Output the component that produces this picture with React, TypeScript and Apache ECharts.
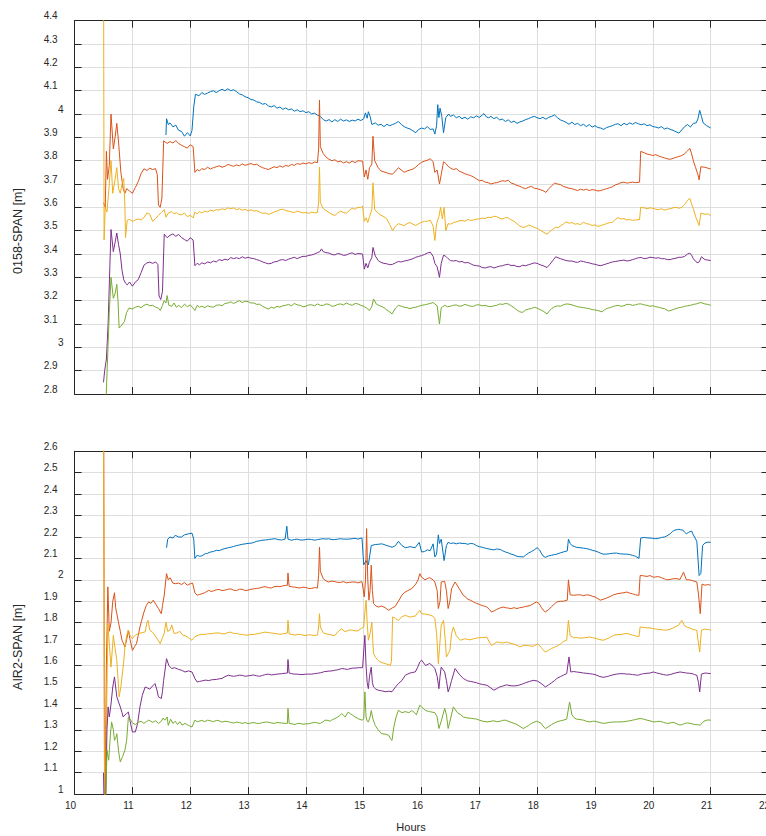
import React, { useEffect, useRef } from "react";
import * as echarts from "echarts";

type P = [number, number][];

// ---------- TOP PLOT (0158-SPAN) ----------
const topBlue: P = [[11.58,3.91],[11.59,3.98],[11.62,3.955],[11.65,3.962],[11.7,3.945],[11.75,3.952],[11.8,3.93],[11.85,3.925],[11.9,3.905],[11.95,3.92],[12.0,3.906],[12.03,3.93],[12.06,4.03],[12.09,4.085],[12.15,4.078],[12.2,4.092],[12.25,4.084],[12.3,4.09],[12.35,4.096],[12.4,4.1],[12.45,4.092],[12.5,4.1],[12.55,4.106],[12.6,4.1],[12.65,4.108],[12.7,4.1],[12.75,4.104],[12.8,4.096],[12.85,4.086],[12.9,4.082],[12.95,4.074],[13.0,4.07],[13.05,4.062],[13.1,4.06],[13.15,4.052],[13.2,4.05],[13.25,4.042],[13.3,4.045],[13.35,4.035],[13.4,4.03],[13.45,4.036],[13.5,4.025],[13.55,4.03],[13.6,4.02],[13.65,4.026],[13.7,4.018],[13.75,4.022],[13.8,4.012],[13.85,4.018],[13.9,4.01],[13.95,4.014],[14.0,4.006],[14.05,4.01],[14.1,4.0],[14.15,4.004],[14.2,3.995],[14.25,3.99],[14.3,3.976],[14.35,3.97],[14.4,3.976],[14.45,3.966],[14.5,3.976],[14.55,3.968],[14.6,3.978],[14.65,3.97],[14.7,3.975],[14.75,3.968],[14.8,3.974],[14.85,3.97],[14.9,3.978],[14.95,3.972],[15.0,3.98],[15.03,4.005],[15.06,3.982],[15.08,4.01],[15.11,3.99],[15.14,3.955],[15.2,3.962],[15.25,3.952],[15.3,3.956],[15.35,3.946],[15.4,3.956],[15.45,3.95],[15.5,3.955],[15.55,3.96],[15.6,3.968],[15.65,3.955],[15.7,3.946],[15.75,3.94],[15.8,3.936],[15.85,3.928],[15.9,3.92],[15.95,3.934],[16.0,3.94],[16.05,3.936],[16.1,3.946],[16.15,3.934],[16.2,3.936],[16.23,3.914],[16.26,3.95],[16.28,4.04],[16.3,3.985],[16.32,4.025],[16.35,3.99],[16.38,3.92],[16.42,3.985],[16.47,4.0],[16.5,3.99],[16.55,3.996],[16.6,3.984],[16.65,3.99],[16.7,3.98],[16.75,3.986],[16.8,3.978],[16.85,3.988],[16.9,3.984],[16.95,3.992],[17.0,3.985],[17.05,3.996],[17.08,4.002],[17.12,3.988],[17.16,3.984],[17.2,3.99],[17.25,3.98],[17.3,3.986],[17.35,3.975],[17.4,3.978],[17.45,3.968],[17.5,3.975],[17.55,3.964],[17.6,3.97],[17.65,3.96],[17.7,3.966],[17.75,3.97],[17.8,3.976],[17.85,3.98],[17.9,3.986],[17.95,3.99],[18.0,3.984],[18.05,3.98],[18.1,3.986],[18.15,3.978],[18.2,3.986],[18.25,3.99],[18.3,3.996],[18.35,3.984],[18.4,3.975],[18.45,3.97],[18.5,3.964],[18.55,3.956],[18.6,3.965],[18.65,3.955],[18.7,3.96],[18.75,3.95],[18.8,3.956],[18.85,3.946],[18.9,3.955],[18.95,3.944],[19.0,3.95],[19.05,3.942],[19.1,3.94],[19.15,3.934],[19.2,3.942],[19.25,3.946],[19.3,3.95],[19.35,3.956],[19.4,3.958],[19.45,3.95],[19.5,3.96],[19.55,3.954],[19.6,3.962],[19.65,3.956],[19.7,3.964],[19.75,3.958],[19.8,3.954],[19.85,3.958],[19.9,3.95],[19.95,3.954],[20.0,3.946],[20.05,3.944],[20.1,3.94],[20.15,3.946],[20.2,3.936],[20.25,3.94],[20.3,3.934],[20.35,3.93],[20.4,3.924],[20.45,3.918],[20.5,3.932],[20.55,3.946],[20.6,3.955],[20.65,3.944],[20.7,3.96],[20.75,3.962],[20.78,3.98],[20.81,4.016],[20.84,3.99],[20.87,3.962],[20.93,3.95],[21.0,3.94]];
const topRed: P = [[10.5,3.62],[10.53,3.6],[10.55,3.84],[10.57,3.72],[10.6,3.78],[10.63,4.0],[10.67,3.85],[10.7,3.9],[10.73,3.96],[10.76,3.88],[10.8,3.75],[10.84,3.68],[10.87,3.66],[10.9,3.68],[10.95,3.67],[11.0,3.66],[11.05,3.685],[11.1,3.71],[11.15,3.745],[11.2,3.765],[11.25,3.758],[11.3,3.768],[11.35,3.762],[11.4,3.766],[11.43,3.74],[11.45,3.61],[11.48,3.6],[11.51,3.64],[11.54,3.885],[11.6,3.874],[11.65,3.882],[11.7,3.876],[11.75,3.886],[11.8,3.874],[11.85,3.866],[11.9,3.86],[11.95,3.854],[12.0,3.868],[12.05,3.86],[12.08,3.75],[12.12,3.762],[12.16,3.756],[12.2,3.766],[12.25,3.762],[12.3,3.772],[12.35,3.764],[12.4,3.77],[12.45,3.774],[12.5,3.778],[12.55,3.772],[12.6,3.776],[12.65,3.784],[12.7,3.78],[12.75,3.776],[12.8,3.782],[12.85,3.778],[12.9,3.786],[12.95,3.78],[13.0,3.784],[13.05,3.788],[13.1,3.782],[13.15,3.785],[13.2,3.776],[13.25,3.77],[13.3,3.766],[13.35,3.762],[13.4,3.768],[13.45,3.774],[13.5,3.77],[13.55,3.778],[13.6,3.772],[13.65,3.78],[13.7,3.776],[13.75,3.784],[13.8,3.78],[13.85,3.788],[13.9,3.784],[13.95,3.79],[14.0,3.786],[14.05,3.792],[14.1,3.788],[14.15,3.794],[14.2,3.792],[14.22,3.85],[14.235,4.06],[14.25,3.86],[14.3,3.83],[14.35,3.815],[14.4,3.806],[14.45,3.8],[14.5,3.804],[14.55,3.795],[14.6,3.798],[14.65,3.79],[14.7,3.796],[14.75,3.79],[14.8,3.798],[14.85,3.792],[14.9,3.8],[14.98,3.798],[15.01,3.73],[15.04,3.76],[15.07,3.72],[15.1,3.77],[15.14,3.785],[15.16,3.905],[15.19,3.8],[15.25,3.77],[15.3,3.756],[15.35,3.752],[15.4,3.748],[15.45,3.744],[15.5,3.742],[15.55,3.756],[15.6,3.77],[15.65,3.76],[15.7,3.75],[15.75,3.756],[15.8,3.76],[15.85,3.764],[15.9,3.772],[15.95,3.784],[16.0,3.793],[16.05,3.798],[16.1,3.802],[16.15,3.808],[16.2,3.796],[16.23,3.75],[16.27,3.76],[16.31,3.7],[16.34,3.74],[16.38,3.795],[16.42,3.788],[16.46,3.776],[16.5,3.768],[16.55,3.762],[16.6,3.766],[16.65,3.756],[16.7,3.75],[16.75,3.744],[16.8,3.74],[16.85,3.736],[16.9,3.73],[16.95,3.722],[17.0,3.714],[17.05,3.716],[17.1,3.708],[17.15,3.706],[17.2,3.7],[17.25,3.704],[17.3,3.706],[17.35,3.71],[17.4,3.714],[17.45,3.712],[17.5,3.716],[17.55,3.704],[17.6,3.7],[17.65,3.694],[17.7,3.69],[17.75,3.684],[17.8,3.68],[17.85,3.686],[17.9,3.69],[17.95,3.682],[18.0,3.68],[18.05,3.676],[18.1,3.672],[18.15,3.664],[18.2,3.68],[18.25,3.692],[18.3,3.704],[18.35,3.7],[18.4,3.698],[18.45,3.69],[18.5,3.686],[18.55,3.682],[18.6,3.68],[18.65,3.676],[18.7,3.672],[18.75,3.678],[18.8,3.674],[18.85,3.678],[18.9,3.672],[18.95,3.676],[19.0,3.674],[19.05,3.67],[19.1,3.672],[19.15,3.676],[19.2,3.68],[19.25,3.684],[19.3,3.688],[19.35,3.696],[19.4,3.7],[19.45,3.706],[19.5,3.708],[19.55,3.704],[19.6,3.706],[19.65,3.708],[19.7,3.706],[19.77,3.708],[19.79,3.84],[19.85,3.834],[19.9,3.828],[19.95,3.826],[20.0,3.822],[20.05,3.826],[20.1,3.82],[20.15,3.816],[20.2,3.812],[20.25,3.808],[20.3,3.806],[20.35,3.81],[20.4,3.814],[20.45,3.818],[20.5,3.822],[20.55,3.83],[20.6,3.842],[20.64,3.853],[20.67,3.83],[20.7,3.8],[20.74,3.77],[20.78,3.74],[20.8,3.718],[20.83,3.774],[20.9,3.772],[20.95,3.768],[21.0,3.764]];
const topYellow: P = [[10.5,4.8],[10.51,3.46],[10.53,3.6],[10.56,3.58],[10.6,3.7],[10.63,3.8],[10.66,3.66],[10.7,3.72],[10.73,3.77],[10.76,3.68],[10.79,3.66],[10.82,3.7],[10.85,3.724],[10.87,3.6],[10.88,3.47],[10.91,3.545],[10.95,3.548],[11.0,3.54],[11.05,3.546],[11.1,3.55],[11.15,3.546],[11.2,3.556],[11.25,3.576],[11.3,3.57],[11.35,3.54],[11.4,3.552],[11.45,3.565],[11.5,3.578],[11.55,3.59],[11.58,3.558],[11.62,3.575],[11.68,3.582],[11.72,3.572],[11.76,3.578],[11.8,3.57],[11.85,3.568],[11.9,3.575],[11.95,3.56],[12.0,3.566],[12.05,3.555],[12.08,3.58],[12.12,3.572],[12.16,3.582],[12.2,3.576],[12.25,3.584],[12.3,3.58],[12.35,3.588],[12.4,3.584],[12.45,3.59],[12.5,3.588],[12.55,3.594],[12.6,3.59],[12.65,3.598],[12.7,3.594],[12.75,3.598],[12.8,3.59],[12.85,3.594],[12.9,3.588],[12.95,3.592],[13.0,3.585],[13.05,3.59],[13.1,3.584],[13.15,3.586],[13.2,3.58],[13.25,3.574],[13.3,3.576],[13.35,3.57],[13.4,3.574],[13.45,3.58],[13.5,3.584],[13.55,3.59],[13.6,3.592],[13.65,3.586],[13.7,3.584],[13.75,3.58],[13.8,3.578],[13.85,3.584],[13.9,3.58],[13.95,3.576],[14.0,3.578],[14.05,3.574],[14.1,3.58],[14.15,3.576],[14.2,3.578],[14.22,3.62],[14.235,3.772],[14.25,3.62],[14.3,3.595],[14.35,3.586],[14.4,3.578],[14.45,3.57],[14.5,3.565],[14.55,3.576],[14.6,3.584],[14.65,3.578],[14.7,3.575],[14.75,3.586],[14.8,3.596],[14.85,3.592],[14.9,3.6],[14.95,3.598],[14.98,3.606],[15.01,3.54],[15.04,3.555],[15.07,3.535],[15.1,3.56],[15.14,3.59],[15.16,3.705],[15.19,3.59],[15.25,3.575],[15.3,3.566],[15.35,3.56],[15.4,3.55],[15.45,3.526],[15.5,3.5],[15.55,3.52],[15.6,3.53],[15.65,3.526],[15.7,3.522],[15.75,3.53],[15.8,3.535],[15.85,3.528],[15.9,3.522],[15.95,3.53],[16.0,3.536],[16.05,3.54],[16.1,3.54],[16.15,3.545],[16.2,3.52],[16.23,3.458],[16.26,3.53],[16.3,3.56],[16.33,3.6],[16.36,3.55],[16.39,3.6],[16.42,3.5],[16.46,3.53],[16.5,3.528],[16.55,3.534],[16.6,3.538],[16.65,3.542],[16.7,3.544],[16.75,3.54],[16.8,3.548],[16.85,3.544],[16.9,3.546],[16.95,3.55],[17.0,3.55],[17.05,3.554],[17.1,3.552],[17.15,3.558],[17.2,3.556],[17.25,3.562],[17.3,3.56],[17.35,3.554],[17.4,3.55],[17.45,3.556],[17.5,3.555],[17.55,3.546],[17.6,3.54],[17.65,3.53],[17.7,3.52],[17.75,3.514],[17.8,3.516],[17.85,3.524],[17.9,3.52],[17.95,3.514],[18.0,3.51],[18.05,3.502],[18.1,3.495],[18.17,3.485],[18.22,3.496],[18.27,3.506],[18.32,3.515],[18.36,3.512],[18.4,3.52],[18.45,3.528],[18.5,3.538],[18.55,3.532],[18.6,3.535],[18.65,3.528],[18.7,3.53],[18.75,3.526],[18.8,3.536],[18.85,3.53],[18.9,3.528],[18.95,3.522],[19.0,3.525],[19.05,3.518],[19.1,3.522],[19.15,3.526],[19.2,3.53],[19.25,3.534],[19.3,3.536],[19.35,3.548],[19.4,3.556],[19.45,3.55],[19.5,3.552],[19.55,3.546],[19.6,3.548],[19.65,3.544],[19.7,3.546],[19.77,3.548],[19.79,3.6],[19.85,3.598],[19.9,3.594],[19.95,3.598],[20.0,3.596],[20.05,3.592],[20.1,3.59],[20.15,3.594],[20.2,3.588],[20.25,3.592],[20.3,3.594],[20.35,3.598],[20.4,3.6],[20.45,3.596],[20.5,3.6],[20.55,3.612],[20.6,3.63],[20.64,3.638],[20.67,3.615],[20.7,3.595],[20.74,3.56],[20.78,3.535],[20.8,3.522],[20.83,3.575],[20.9,3.57],[20.95,3.572],[21.0,3.565]];
const topPurple: P = [[10.5,2.85],[10.52,2.9],[10.55,2.95],[10.58,3.1],[10.61,3.35],[10.63,3.505],[10.67,3.41],[10.7,3.45],[10.73,3.49],[10.76,3.44],[10.79,3.4],[10.82,3.33],[10.85,3.29],[10.88,3.275],[10.91,3.268],[10.95,3.28],[11.0,3.262],[11.05,3.28],[11.1,3.29],[11.15,3.32],[11.2,3.352],[11.25,3.362],[11.3,3.365],[11.35,3.36],[11.4,3.366],[11.44,3.355],[11.46,3.22],[11.49,3.205],[11.52,3.24],[11.55,3.485],[11.6,3.47],[11.65,3.48],[11.7,3.486],[11.75,3.476],[11.8,3.484],[11.85,3.47],[11.9,3.462],[11.95,3.455],[12.0,3.47],[12.05,3.46],[12.08,3.35],[12.12,3.36],[12.16,3.354],[12.2,3.362],[12.25,3.358],[12.3,3.366],[12.35,3.362],[12.4,3.37],[12.45,3.366],[12.5,3.376],[12.55,3.372],[12.6,3.378],[12.65,3.374],[12.7,3.385],[12.75,3.38],[12.8,3.384],[12.85,3.38],[12.9,3.388],[12.95,3.382],[13.0,3.386],[13.05,3.382],[13.1,3.38],[13.15,3.376],[13.2,3.372],[13.25,3.366],[13.3,3.362],[13.35,3.358],[13.4,3.36],[13.45,3.366],[13.5,3.368],[13.55,3.374],[13.6,3.376],[13.65,3.372],[13.7,3.378],[13.75,3.382],[13.8,3.386],[13.85,3.38],[13.9,3.386],[13.95,3.39],[14.0,3.39],[14.05,3.394],[14.1,3.396],[14.15,3.4],[14.2,3.406],[14.24,3.41],[14.27,3.422],[14.3,3.41],[14.35,3.406],[14.4,3.404],[14.45,3.398],[14.5,3.396],[14.55,3.402],[14.6,3.4],[14.65,3.394],[14.7,3.396],[14.75,3.402],[14.8,3.405],[14.85,3.398],[14.9,3.402],[14.98,3.4],[15.01,3.335],[15.04,3.36],[15.07,3.34],[15.1,3.365],[15.14,3.385],[15.16,3.428],[15.2,3.392],[15.25,3.372],[15.3,3.364],[15.35,3.36],[15.4,3.358],[15.45,3.354],[15.5,3.356],[15.55,3.362],[15.6,3.368],[15.65,3.366],[15.7,3.37],[15.75,3.372],[15.8,3.376],[15.85,3.38],[15.9,3.386],[15.95,3.39],[16.0,3.393],[16.05,3.398],[16.1,3.404],[16.15,3.408],[16.2,3.39],[16.23,3.36],[16.27,3.345],[16.31,3.3],[16.34,3.36],[16.38,3.395],[16.42,3.39],[16.46,3.38],[16.5,3.372],[16.55,3.37],[16.6,3.372],[16.65,3.366],[16.7,3.368],[16.75,3.362],[16.8,3.364],[16.85,3.358],[16.9,3.352],[16.95,3.35],[17.0,3.348],[17.05,3.342],[17.1,3.34],[17.15,3.344],[17.2,3.346],[17.25,3.34],[17.3,3.344],[17.35,3.348],[17.4,3.35],[17.45,3.354],[17.5,3.356],[17.55,3.35],[17.6,3.352],[17.65,3.346],[17.7,3.346],[17.75,3.352],[17.8,3.35],[17.85,3.354],[17.9,3.358],[17.95,3.362],[18.0,3.36],[18.05,3.354],[18.1,3.35],[18.17,3.342],[18.22,3.356],[18.27,3.372],[18.32,3.388],[18.36,3.384],[18.4,3.38],[18.45,3.376],[18.5,3.372],[18.55,3.37],[18.6,3.37],[18.65,3.366],[18.7,3.364],[18.75,3.37],[18.8,3.368],[18.85,3.364],[18.9,3.362],[18.95,3.358],[19.0,3.356],[19.05,3.352],[19.1,3.35],[19.15,3.354],[19.2,3.358],[19.25,3.362],[19.3,3.366],[19.35,3.368],[19.4,3.37],[19.45,3.372],[19.5,3.374],[19.55,3.37],[19.6,3.372],[19.65,3.376],[19.7,3.38],[19.75,3.384],[19.8,3.385],[19.85,3.38],[19.9,3.382],[19.95,3.386],[20.0,3.385],[20.05,3.382],[20.1,3.384],[20.15,3.38],[20.2,3.38],[20.25,3.376],[20.3,3.376],[20.35,3.38],[20.4,3.382],[20.45,3.386],[20.5,3.386],[20.55,3.39],[20.6,3.4],[20.64,3.404],[20.67,3.395],[20.7,3.38],[20.74,3.368],[20.78,3.362],[20.81,3.37],[20.84,3.388],[20.9,3.376],[20.95,3.374],[21.0,3.372]];
const topGreen: P = [[10.54,2.75],[10.57,2.95],[10.6,3.15],[10.63,3.3],[10.67,3.21],[10.7,3.23],[10.73,3.27],[10.75,3.2],[10.77,3.083],[10.8,3.09],[10.83,3.1],[10.86,3.11],[10.9,3.15],[10.94,3.168],[11.0,3.165],[11.05,3.172],[11.1,3.176],[11.15,3.17],[11.2,3.18],[11.25,3.185],[11.3,3.178],[11.35,3.18],[11.4,3.172],[11.45,3.168],[11.48,3.158],[11.52,3.18],[11.55,3.2],[11.58,3.19],[11.6,3.222],[11.63,3.18],[11.68,3.176],[11.72,3.19],[11.76,3.172],[11.8,3.18],[11.85,3.17],[11.9,3.185],[11.95,3.174],[12.0,3.182],[12.05,3.168],[12.08,3.158],[12.12,3.18],[12.16,3.172],[12.2,3.176],[12.25,3.17],[12.3,3.178],[12.35,3.174],[12.4,3.172],[12.45,3.18],[12.5,3.182],[12.55,3.178],[12.6,3.188],[12.65,3.19],[12.7,3.195],[12.75,3.188],[12.8,3.194],[12.85,3.2],[12.9,3.192],[12.95,3.198],[13.0,3.196],[13.05,3.19],[13.1,3.19],[13.15,3.184],[13.2,3.185],[13.25,3.176],[13.3,3.17],[13.35,3.164],[13.4,3.172],[13.45,3.168],[13.5,3.176],[13.55,3.172],[13.6,3.178],[13.65,3.18],[13.7,3.184],[13.75,3.178],[13.8,3.188],[13.85,3.182],[13.9,3.18],[13.95,3.174],[14.0,3.176],[14.05,3.182],[14.1,3.182],[14.15,3.178],[14.2,3.186],[14.25,3.18],[14.3,3.18],[14.35,3.186],[14.4,3.184],[14.45,3.176],[14.5,3.178],[14.55,3.184],[14.6,3.186],[14.65,3.182],[14.7,3.19],[14.75,3.184],[14.8,3.18],[14.85,3.188],[14.9,3.186],[14.95,3.18],[15.0,3.176],[15.05,3.168],[15.1,3.158],[15.14,3.175],[15.17,3.207],[15.22,3.185],[15.26,3.18],[15.3,3.176],[15.35,3.17],[15.4,3.16],[15.45,3.152],[15.49,3.143],[15.55,3.168],[15.6,3.18],[15.65,3.176],[15.7,3.172],[15.75,3.17],[15.8,3.166],[15.85,3.17],[15.9,3.172],[15.95,3.176],[16.0,3.18],[16.05,3.182],[16.1,3.185],[16.15,3.188],[16.2,3.192],[16.27,3.178],[16.31,3.1],[16.34,3.17],[16.4,3.18],[16.45,3.174],[16.5,3.176],[16.55,3.18],[16.6,3.182],[16.65,3.176],[16.7,3.178],[16.75,3.184],[16.8,3.18],[16.85,3.176],[16.9,3.176],[16.95,3.182],[17.0,3.182],[17.05,3.178],[17.1,3.18],[17.15,3.176],[17.2,3.174],[17.25,3.178],[17.3,3.18],[17.35,3.186],[17.4,3.184],[17.45,3.188],[17.5,3.186],[17.55,3.178],[17.6,3.17],[17.65,3.16],[17.7,3.152],[17.75,3.15],[17.8,3.16],[17.85,3.164],[17.9,3.166],[17.95,3.172],[18.0,3.168],[18.05,3.162],[18.1,3.156],[18.17,3.143],[18.21,3.156],[18.25,3.166],[18.3,3.174],[18.35,3.178],[18.4,3.176],[18.45,3.182],[18.5,3.186],[18.55,3.185],[18.6,3.182],[18.65,3.178],[18.7,3.174],[18.75,3.172],[18.8,3.17],[18.85,3.168],[18.9,3.166],[18.95,3.162],[19.0,3.16],[19.05,3.158],[19.12,3.152],[19.16,3.16],[19.2,3.166],[19.25,3.17],[19.3,3.174],[19.35,3.178],[19.4,3.18],[19.45,3.176],[19.5,3.178],[19.55,3.184],[19.6,3.184],[19.65,3.18],[19.7,3.182],[19.75,3.186],[19.8,3.186],[19.85,3.182],[19.9,3.18],[19.95,3.176],[20.0,3.178],[20.05,3.174],[20.1,3.172],[20.15,3.168],[20.2,3.166],[20.27,3.156],[20.31,3.158],[20.35,3.162],[20.4,3.166],[20.45,3.17],[20.5,3.172],[20.55,3.176],[20.6,3.178],[20.65,3.18],[20.7,3.184],[20.75,3.186],[20.8,3.19],[20.83,3.192],[20.9,3.186],[20.95,3.184],[21.0,3.18]];

// ---------- BOTTOM PLOT (AIR2-SPAN) ----------
const botBlue: P = [[11.59,2.15],[11.61,2.19],[11.65,2.2],[11.7,2.195],[11.74,2.208],[11.8,2.2],[11.85,2.2],[11.9,2.21],[11.97,2.215],[12.03,2.218],[12.06,2.19],[12.08,2.1],[12.12,2.115],[12.16,2.11],[12.2,2.112],[12.26,2.122],[12.3,2.124],[12.35,2.13],[12.4,2.132],[12.45,2.138],[12.5,2.136],[12.55,2.142],[12.6,2.146],[12.66,2.15],[12.7,2.152],[12.75,2.156],[12.8,2.16],[12.84,2.162],[12.9,2.166],[12.95,2.168],[13.0,2.17],[13.07,2.172],[13.11,2.176],[13.15,2.18],[13.2,2.182],[13.24,2.185],[13.3,2.186],[13.35,2.188],[13.4,2.19],[13.47,2.192],[13.52,2.188],[13.58,2.186],[13.64,2.19],[13.67,2.25],[13.69,2.19],[13.75,2.185],[13.8,2.188],[13.85,2.19],[13.9,2.186],[13.95,2.186],[14.0,2.188],[14.04,2.19],[14.1,2.188],[14.15,2.185],[14.2,2.188],[14.25,2.19],[14.3,2.192],[14.35,2.19],[14.39,2.192],[14.45,2.188],[14.5,2.188],[14.55,2.19],[14.6,2.192],[14.65,2.19],[14.73,2.19],[14.8,2.192],[14.85,2.194],[14.9,2.19],[14.97,2.196],[15.0,2.07],[15.04,2.09],[15.08,2.07],[15.13,2.16],[15.2,2.165],[15.25,2.166],[15.31,2.168],[15.35,2.165],[15.4,2.16],[15.45,2.156],[15.49,2.152],[15.55,2.16],[15.6,2.18],[15.66,2.16],[15.72,2.15],[15.76,2.152],[15.8,2.155],[15.85,2.152],[15.89,2.15],[15.96,2.175],[16.0,2.13],[16.05,2.132],[16.1,2.14],[16.15,2.136],[16.2,2.168],[16.23,2.107],[16.26,2.12],[16.29,2.21],[16.31,2.17],[16.34,2.19],[16.37,2.13],[16.39,2.09],[16.43,2.16],[16.46,2.175],[16.5,2.17],[16.55,2.172],[16.6,2.168],[16.65,2.172],[16.7,2.17],[16.75,2.17],[16.8,2.166],[16.85,2.17],[16.9,2.168],[16.95,2.16],[17.0,2.155],[17.05,2.152],[17.1,2.148],[17.13,2.146],[17.2,2.142],[17.25,2.14],[17.3,2.144],[17.36,2.142],[17.4,2.136],[17.45,2.13],[17.5,2.126],[17.53,2.122],[17.6,2.116],[17.65,2.11],[17.7,2.108],[17.76,2.107],[17.8,2.115],[17.85,2.125],[17.9,2.132],[17.95,2.14],[18.0,2.15],[18.04,2.14],[18.07,2.125],[18.1,2.112],[18.14,2.105],[18.2,2.112],[18.25,2.115],[18.3,2.118],[18.34,2.12],[18.4,2.126],[18.45,2.13],[18.52,2.135],[18.54,2.19],[18.57,2.17],[18.6,2.16],[18.64,2.156],[18.68,2.152],[18.74,2.15],[18.8,2.148],[18.85,2.146],[18.91,2.142],[18.95,2.138],[19.0,2.135],[19.05,2.13],[19.1,2.124],[19.14,2.12],[19.2,2.12],[19.25,2.122],[19.3,2.124],[19.37,2.125],[19.42,2.122],[19.5,2.12],[19.55,2.12],[19.6,2.118],[19.65,2.114],[19.7,2.11],[19.76,2.1],[19.79,2.195],[19.85,2.198],[19.9,2.196],[19.95,2.195],[20.0,2.194],[20.05,2.192],[20.1,2.194],[20.15,2.198],[20.2,2.2],[20.24,2.205],[20.3,2.215],[20.34,2.226],[20.38,2.232],[20.42,2.234],[20.45,2.236],[20.48,2.234],[20.52,2.232],[20.55,2.222],[20.58,2.215],[20.62,2.222],[20.67,2.228],[20.7,2.21],[20.72,2.2],[20.76,2.18],[20.8,2.02],[20.83,2.03],[20.86,2.16],[20.9,2.172],[20.95,2.176],[21.0,2.175]];
const botRed: P = [[10.5,3.0],[10.52,0.8],[10.55,1.6],[10.575,1.967],[10.6,1.76],[10.63,1.8],[10.66,1.9],[10.69,1.94],[10.71,1.87],[10.73,1.842],[10.76,1.8],[10.79,1.76],[10.82,1.718],[10.85,1.7],[10.87,1.687],[10.9,1.72],[10.93,1.765],[10.96,1.72],[11.0,1.671],[11.04,1.69],[11.07,1.702],[11.1,1.74],[11.13,1.78],[11.16,1.811],[11.2,1.85],[11.24,1.88],[11.28,1.897],[11.32,1.89],[11.36,1.905],[11.4,1.888],[11.45,1.866],[11.5,1.842],[11.52,1.88],[11.55,1.928],[11.59,2.029],[11.62,2.0],[11.65,2.01],[11.7,1.985],[11.74,1.982],[11.8,1.985],[11.85,1.978],[11.9,1.988],[11.95,1.975],[12.0,1.982],[12.04,1.985],[12.08,1.94],[12.12,1.928],[12.16,1.932],[12.2,1.935],[12.25,1.94],[12.32,1.951],[12.36,1.946],[12.4,1.948],[12.45,1.954],[12.5,1.955],[12.55,1.95],[12.6,1.952],[12.65,1.956],[12.7,1.958],[12.75,1.952],[12.8,1.95],[12.85,1.956],[12.9,1.956],[12.95,1.95],[13.0,1.952],[13.05,1.956],[13.1,1.958],[13.15,1.96],[13.2,1.962],[13.25,1.966],[13.3,1.968],[13.35,1.964],[13.4,1.962],[13.45,1.968],[13.5,1.97],[13.55,1.968],[13.6,1.972],[13.65,1.974],[13.68,1.975],[13.69,2.032],[13.71,1.97],[13.75,1.968],[13.8,1.966],[13.85,1.964],[13.9,1.962],[13.95,1.966],[14.0,1.964],[14.05,1.96],[14.1,1.96],[14.15,1.964],[14.2,1.962],[14.22,2.02],[14.235,2.153],[14.25,2.04],[14.3,2.005],[14.35,1.995],[14.39,1.99],[14.45,1.994],[14.5,1.992],[14.55,1.988],[14.6,1.988],[14.65,1.992],[14.7,1.986],[14.75,1.988],[14.8,1.99],[14.85,1.99],[14.9,1.986],[14.97,1.992],[15.01,1.92],[15.03,2.0],[15.05,2.239],[15.07,2.0],[15.09,1.905],[15.11,1.95],[15.13,2.068],[15.15,1.95],[15.17,1.889],[15.21,1.878],[15.25,1.873],[15.31,1.878],[15.37,1.87],[15.43,1.858],[15.5,1.87],[15.54,1.875],[15.6,1.9],[15.66,1.928],[15.7,1.94],[15.75,1.948],[15.83,1.959],[15.9,1.98],[15.94,2.0],[15.97,2.029],[16.0,2.013],[16.06,2.0],[16.1,2.006],[16.14,2.01],[16.2,2.0],[16.23,1.99],[16.27,1.95],[16.29,1.866],[16.32,1.9],[16.34,1.99],[16.4,1.993],[16.43,1.95],[16.46,1.866],[16.49,1.9],[16.52,1.959],[16.58,1.99],[16.65,1.96],[16.72,1.928],[16.76,1.92],[16.8,1.91],[16.85,1.904],[16.9,1.897],[16.95,1.89],[17.0,1.885],[17.05,1.88],[17.1,1.876],[17.13,1.873],[17.18,1.86],[17.21,1.85],[17.26,1.856],[17.3,1.862],[17.35,1.868],[17.41,1.873],[17.45,1.87],[17.5,1.868],[17.55,1.866],[17.6,1.87],[17.65,1.866],[17.7,1.87],[17.75,1.872],[17.8,1.876],[17.88,1.88],[17.94,1.89],[17.99,1.897],[18.03,1.89],[18.07,1.872],[18.1,1.86],[18.14,1.85],[18.2,1.862],[18.25,1.875],[18.3,1.888],[18.34,1.897],[18.4,1.9],[18.45,1.9],[18.52,1.905],[18.54,2.0],[18.57,1.93],[18.63,1.928],[18.7,1.93],[18.75,1.93],[18.8,1.926],[18.85,1.93],[18.91,1.928],[18.95,1.924],[19.0,1.92],[19.05,1.912],[19.09,1.905],[19.15,1.91],[19.2,1.915],[19.26,1.922],[19.32,1.93],[19.38,1.935],[19.45,1.938],[19.5,1.94],[19.55,1.943],[19.6,1.938],[19.65,1.935],[19.7,1.93],[19.76,1.928],[19.78,2.02],[19.82,2.02],[19.85,2.018],[19.9,2.016],[19.95,2.02],[20.01,2.012],[20.05,2.014],[20.1,2.015],[20.15,2.01],[20.2,2.005],[20.24,2.0],[20.3,2.002],[20.35,2.005],[20.4,2.006],[20.47,2.002],[20.53,2.036],[20.58,2.0],[20.64,2.0],[20.7,1.995],[20.76,1.99],[20.79,1.93],[20.82,1.842],[20.85,1.98],[20.9,1.975],[20.95,1.978],[21.0,1.975]];
const botYellow: P = [[10.5,3.0],[10.52,0.7],[10.55,1.3],[10.575,1.796],[10.6,1.7],[10.63,1.593],[10.67,1.741],[10.7,1.68],[10.73,1.624],[10.75,1.54],[10.77,1.454],[10.8,1.5],[10.82,1.547],[10.85,1.62],[10.87,1.687],[10.9,1.74],[10.93,1.765],[10.96,1.74],[11.0,1.726],[11.05,1.742],[11.1,1.749],[11.15,1.752],[11.22,1.757],[11.25,1.8],[11.27,1.811],[11.3,1.765],[11.35,1.755],[11.39,1.74],[11.44,1.72],[11.48,1.702],[11.52,1.73],[11.55,1.75],[11.58,1.803],[11.61,1.76],[11.65,1.765],[11.68,1.79],[11.72,1.75],[11.77,1.752],[11.82,1.76],[11.87,1.742],[11.91,1.74],[11.97,1.73],[12.03,1.718],[12.08,1.735],[12.14,1.742],[12.2,1.746],[12.25,1.745],[12.3,1.748],[12.37,1.749],[12.44,1.752],[12.5,1.752],[12.55,1.748],[12.6,1.748],[12.65,1.754],[12.7,1.756],[12.75,1.75],[12.8,1.75],[12.85,1.746],[12.9,1.745],[12.95,1.742],[13.0,1.742],[13.05,1.745],[13.1,1.745],[13.15,1.748],[13.2,1.75],[13.25,1.754],[13.3,1.756],[13.35,1.754],[13.4,1.752],[13.45,1.75],[13.5,1.748],[13.55,1.746],[13.6,1.748],[13.68,1.752],[13.69,1.811],[13.71,1.748],[13.76,1.745],[13.81,1.742],[13.86,1.746],[13.9,1.745],[13.95,1.742],[14.0,1.74],[14.05,1.744],[14.1,1.742],[14.15,1.74],[14.2,1.742],[14.22,1.78],[14.235,1.842],[14.25,1.78],[14.3,1.752],[14.35,1.748],[14.4,1.745],[14.45,1.742],[14.5,1.74],[14.56,1.76],[14.62,1.772],[14.66,1.76],[14.7,1.76],[14.75,1.766],[14.8,1.765],[14.85,1.762],[14.9,1.762],[14.95,1.772],[15.0,1.78],[15.02,1.85],[15.04,1.905],[15.06,1.8],[15.08,1.718],[15.11,1.75],[15.14,1.803],[15.16,1.7],[15.17,1.656],[15.21,1.636],[15.25,1.624],[15.3,1.615],[15.37,1.609],[15.42,1.605],[15.46,1.601],[15.48,1.62],[15.5,1.827],[15.55,1.82],[15.6,1.81],[15.66,1.828],[15.72,1.834],[15.76,1.83],[15.8,1.826],[15.85,1.83],[15.89,1.83],[15.93,1.845],[15.97,1.858],[16.0,1.842],[16.07,1.84],[16.14,1.836],[16.2,1.83],[16.23,1.819],[16.26,1.75],[16.29,1.609],[16.31,1.68],[16.34,1.788],[16.38,1.811],[16.41,1.72],[16.43,1.64],[16.47,1.66],[16.49,1.671],[16.52,1.75],[16.55,1.78],[16.6,1.74],[16.67,1.718],[16.75,1.725],[16.8,1.722],[16.84,1.72],[16.9,1.725],[16.95,1.728],[17.0,1.73],[17.05,1.73],[17.1,1.732],[17.13,1.733],[17.17,1.71],[17.21,1.694],[17.26,1.702],[17.3,1.71],[17.35,1.708],[17.4,1.705],[17.47,1.71],[17.53,1.704],[17.6,1.7],[17.65,1.694],[17.7,1.687],[17.75,1.692],[17.8,1.695],[17.87,1.692],[17.93,1.69],[18.0,1.7],[18.04,1.694],[18.07,1.685],[18.1,1.674],[18.14,1.663],[18.2,1.672],[18.25,1.68],[18.3,1.686],[18.34,1.69],[18.4,1.7],[18.45,1.712],[18.51,1.718],[18.54,1.811],[18.57,1.74],[18.63,1.73],[18.7,1.73],[18.75,1.728],[18.82,1.73],[18.91,1.733],[18.96,1.73],[19.0,1.728],[19.07,1.722],[19.14,1.718],[19.2,1.724],[19.25,1.73],[19.32,1.741],[19.38,1.744],[19.45,1.745],[19.5,1.748],[19.55,1.75],[19.6,1.746],[19.65,1.742],[19.7,1.738],[19.76,1.735],[19.78,1.78],[19.85,1.778],[19.9,1.776],[19.95,1.776],[20.01,1.772],[20.06,1.77],[20.12,1.768],[20.18,1.766],[20.24,1.765],[20.3,1.77],[20.35,1.775],[20.4,1.782],[20.45,1.79],[20.5,1.811],[20.55,1.785],[20.6,1.778],[20.64,1.775],[20.7,1.768],[20.76,1.765],[20.79,1.7],[20.81,1.663],[20.84,1.765],[20.9,1.77],[20.95,1.768],[21.0,1.765]];
const botPurple: P = [[10.5,1.1],[10.52,0.8],[10.54,1.0],[10.56,1.3],[10.58,1.407],[10.6,1.36],[10.63,1.42],[10.66,1.5],[10.69,1.547],[10.71,1.5],[10.73,1.454],[10.76,1.43],[10.79,1.407],[10.82,1.38],[10.84,1.36],[10.87,1.37],[10.9,1.376],[10.93,1.383],[10.96,1.34],[11.0,1.29],[11.05,1.29],[11.09,1.33],[11.13,1.407],[11.17,1.46],[11.22,1.5],[11.26,1.495],[11.3,1.49],[11.35,1.505],[11.39,1.516],[11.42,1.49],[11.45,1.454],[11.5,1.446],[11.52,1.48],[11.54,1.531],[11.59,1.632],[11.63,1.6],[11.68,1.586],[11.73,1.59],[11.8,1.582],[11.85,1.578],[11.91,1.57],[11.97,1.575],[12.03,1.57],[12.08,1.54],[12.12,1.523],[12.16,1.526],[12.2,1.528],[12.26,1.532],[12.32,1.53],[12.38,1.534],[12.45,1.535],[12.5,1.538],[12.55,1.54],[12.6,1.548],[12.66,1.555],[12.7,1.552],[12.75,1.55],[12.8,1.552],[12.85,1.555],[12.9,1.554],[12.95,1.55],[13.0,1.552],[13.05,1.554],[13.1,1.556],[13.15,1.552],[13.2,1.55],[13.25,1.554],[13.3,1.558],[13.35,1.56],[13.4,1.556],[13.45,1.558],[13.5,1.56],[13.58,1.562],[13.64,1.564],[13.68,1.565],[13.69,1.628],[13.71,1.565],[13.75,1.562],[13.8,1.56],[13.85,1.56],[13.9,1.558],[13.95,1.558],[14.0,1.56],[14.04,1.56],[14.1,1.56],[14.15,1.562],[14.2,1.564],[14.25,1.566],[14.3,1.57],[14.33,1.572],[14.4,1.574],[14.45,1.575],[14.5,1.578],[14.55,1.58],[14.62,1.586],[14.67,1.584],[14.72,1.582],[14.8,1.588],[14.85,1.588],[14.91,1.59],[14.98,1.59],[15.02,1.741],[15.04,1.6],[15.06,1.52],[15.08,1.492],[15.1,1.55],[15.13,1.593],[15.15,1.52],[15.17,1.5],[15.21,1.49],[15.25,1.485],[15.31,1.482],[15.37,1.478],[15.43,1.48],[15.49,1.478],[15.55,1.5],[15.6,1.516],[15.66,1.53],[15.72,1.555],[15.8,1.565],[15.85,1.568],[15.89,1.57],[15.93,1.59],[15.97,1.617],[16.0,1.625],[16.07,1.6],[16.14,1.61],[16.2,1.596],[16.23,1.586],[16.27,1.55],[16.3,1.492],[16.32,1.55],[16.34,1.593],[16.4,1.57],[16.43,1.53],[16.46,1.477],[16.49,1.5],[16.52,1.531],[16.58,1.586],[16.65,1.56],[16.72,1.54],[16.76,1.534],[16.8,1.528],[16.85,1.526],[16.9,1.523],[16.95,1.52],[17.0,1.515],[17.05,1.512],[17.13,1.508],[17.2,1.495],[17.25,1.485],[17.3,1.492],[17.35,1.5],[17.4,1.504],[17.47,1.51],[17.53,1.506],[17.6,1.505],[17.65,1.506],[17.7,1.51],[17.75,1.514],[17.8,1.52],[17.87,1.526],[17.93,1.531],[18.0,1.528],[18.05,1.52],[18.1,1.51],[18.14,1.5],[18.2,1.51],[18.25,1.52],[18.3,1.53],[18.34,1.54],[18.4,1.548],[18.45,1.555],[18.51,1.562],[18.55,1.64],[18.58,1.57],[18.63,1.572],[18.68,1.57],[18.74,1.568],[18.8,1.565],[18.85,1.564],[18.91,1.562],[18.96,1.56],[19.0,1.558],[19.07,1.55],[19.14,1.545],[19.2,1.548],[19.25,1.552],[19.3,1.556],[19.37,1.56],[19.43,1.562],[19.5,1.562],[19.55,1.56],[19.6,1.56],[19.65,1.558],[19.7,1.556],[19.75,1.555],[19.8,1.56],[19.84,1.562],[19.9,1.564],[19.95,1.565],[20.01,1.57],[20.06,1.566],[20.12,1.562],[20.18,1.558],[20.24,1.555],[20.3,1.558],[20.35,1.562],[20.4,1.566],[20.47,1.57],[20.52,1.568],[20.58,1.565],[20.63,1.564],[20.68,1.562],[20.72,1.558],[20.76,1.555],[20.79,1.52],[20.81,1.477],[20.84,1.56],[20.9,1.565],[20.95,1.564],[21.0,1.562]];
const botGreen: P = [[10.53,0.9],[10.55,1.1],[10.56,1.205],[10.59,1.158],[10.62,1.28],[10.64,1.337],[10.67,1.3],[10.69,1.251],[10.71,1.26],[10.73,1.282],[10.76,1.2],[10.79,1.15],[10.83,1.175],[10.87,1.205],[10.9,1.251],[10.93,1.36],[10.96,1.35],[11.0,1.332],[11.05,1.325],[11.1,1.335],[11.15,1.34],[11.2,1.33],[11.24,1.338],[11.28,1.345],[11.32,1.34],[11.35,1.335],[11.4,1.342],[11.45,1.33],[11.5,1.34],[11.53,1.355],[11.56,1.345],[11.6,1.36],[11.62,1.321],[11.66,1.35],[11.7,1.33],[11.74,1.34],[11.78,1.325],[11.82,1.338],[11.86,1.322],[11.91,1.33],[11.97,1.32],[12.03,1.313],[12.08,1.345],[12.12,1.338],[12.15,1.34],[12.2,1.344],[12.25,1.338],[12.3,1.345],[12.35,1.342],[12.4,1.338],[12.45,1.344],[12.5,1.342],[12.55,1.336],[12.6,1.34],[12.66,1.338],[12.7,1.334],[12.75,1.332],[12.8,1.336],[12.85,1.334],[12.9,1.33],[12.95,1.334],[13.0,1.329],[13.05,1.332],[13.1,1.334],[13.15,1.33],[13.2,1.33],[13.25,1.334],[13.3,1.336],[13.35,1.336],[13.4,1.332],[13.45,1.33],[13.5,1.334],[13.58,1.332],[13.64,1.33],[13.68,1.33],[13.69,1.4],[13.71,1.33],[13.76,1.328],[13.81,1.325],[13.86,1.33],[13.9,1.33],[13.95,1.326],[14.0,1.328],[14.04,1.328],[14.1,1.332],[14.15,1.335],[14.2,1.332],[14.25,1.33],[14.3,1.338],[14.33,1.345],[14.38,1.344],[14.42,1.34],[14.46,1.348],[14.5,1.352],[14.54,1.358],[14.58,1.365],[14.62,1.376],[14.65,1.368],[14.68,1.36],[14.73,1.383],[14.77,1.375],[14.8,1.37],[14.85,1.36],[14.92,1.35],[14.97,1.345],[15.0,1.35],[15.02,1.477],[15.04,1.36],[15.06,1.34],[15.08,1.337],[15.11,1.36],[15.13,1.39],[15.16,1.35],[15.2,1.32],[15.25,1.3],[15.31,1.282],[15.37,1.28],[15.43,1.275],[15.47,1.255],[15.49,1.251],[15.52,1.313],[15.56,1.36],[15.6,1.391],[15.66,1.38],[15.72,1.385],[15.78,1.38],[15.83,1.39],[15.88,1.38],[15.91,1.37],[15.97,1.415],[16.0,1.407],[16.07,1.39],[16.14,1.385],[16.23,1.38],[16.27,1.36],[16.3,1.306],[16.34,1.34],[16.4,1.4],[16.43,1.37],[16.46,1.306],[16.5,1.35],[16.55,1.407],[16.62,1.38],[16.68,1.37],[16.72,1.36],[16.8,1.355],[16.85,1.354],[16.9,1.352],[16.95,1.35],[17.0,1.345],[17.06,1.34],[17.13,1.337],[17.2,1.34],[17.25,1.342],[17.3,1.338],[17.36,1.34],[17.4,1.344],[17.45,1.345],[17.53,1.337],[17.6,1.33],[17.65,1.325],[17.7,1.316],[17.76,1.306],[17.8,1.312],[17.85,1.32],[17.9,1.33],[17.95,1.336],[17.99,1.34],[18.03,1.336],[18.07,1.33],[18.1,1.318],[18.14,1.306],[18.2,1.315],[18.25,1.325],[18.3,1.332],[18.34,1.337],[18.4,1.342],[18.45,1.345],[18.51,1.35],[18.56,1.43],[18.6,1.37],[18.64,1.356],[18.68,1.35],[18.74,1.348],[18.8,1.345],[18.85,1.34],[18.91,1.337],[18.96,1.34],[19.0,1.34],[19.07,1.335],[19.14,1.33],[19.2,1.332],[19.25,1.335],[19.3,1.336],[19.37,1.337],[19.43,1.337],[19.5,1.338],[19.55,1.34],[19.6,1.342],[19.65,1.345],[19.7,1.348],[19.78,1.353],[19.84,1.35],[19.9,1.345],[19.95,1.342],[20.01,1.337],[20.06,1.338],[20.12,1.34],[20.18,1.335],[20.24,1.33],[20.3,1.332],[20.35,1.335],[20.4,1.33],[20.47,1.322],[20.52,1.326],[20.55,1.33],[20.6,1.332],[20.64,1.33],[20.68,1.328],[20.72,1.325],[20.77,1.324],[20.82,1.322],[20.85,1.33],[20.88,1.34],[20.93,1.345],[20.97,1.346],[21.0,1.345]];

const SERIES_NAMES = ["A", "B", "C", "D", "E"];
const COLORS = ["#0072BD", "#D95319", "#EDB120", "#7E2F8E", "#77AC30"];

const X_MIN = 10;
const X_MAX = 22;
const TOP_Y_MIN = 2.8;
const TOP_Y_MAX = 4.4;
const BOT_Y_MIN = 1.0;
const BOT_Y_MAX = 2.6;

const TOP_LABEL = "0158-SPAN [m]";
const BOT_LABEL = "AIR2-SPAN [m]";
const X_LABEL = "Hours";

const FONT = "'Liberation Sans', Arial, Helvetica, sans-serif";
const AXIS_COLOR = "#262626";
const GRID_COLOR = "#dedede";

export default function App() {
  const ref = useRef<HTMLDivElement>(null);

  useEffect(() => {
    if (!ref.current) return;
    const chart = echarts.init(ref.current, undefined, { renderer: "svg" });

    const grids = [
      { left: 74.6, top: 20.7, width: 693.9, height: 373.3, containLabel: false, outerBoundsMode: "none" },
      { left: 74.6, top: 451.3, width: 693.9, height: 342.8, containLabel: false, outerBoundsMode: "none" },
    ];

    const tick = { show: true, inside: true, length: 7, lineStyle: { color: AXIS_COLOR, width: 1 } };
    const line = { show: true, onZero: false, lineStyle: { color: AXIS_COLOR, width: 1 } };
    const split = { show: true, lineStyle: { color: GRID_COLOR, width: 1 } };

    const yFmt = (v: number) => {
      const r = Math.round(v * 10) / 10;
      const s = String(r);
      return Number.isInteger(r) ? `{i|${s}}` : `{d|${s}}`;
    };
    const yRich = {
      d: { fontSize: 10, color: AXIS_COLOR, fontFamily: FONT, padding: [0, 6, 10, 0] },
      i: { fontSize: 10, color: AXIS_COLOR, fontFamily: FONT, padding: [0, 0, 10, 0] },
    };

    const xAxisFor = (gridIndex: number, showLabels: boolean) => [
      {
        type: "value", gridIndex, position: "bottom", min: X_MIN, max: X_MAX, interval: 1,
        axisLine: line, axisTick: tick, splitLine: split,
        axisLabel: showLabels
          ? {
              show: true, margin: 6, formatter: (v: number) => `{a|${v}}`,
              rich: { a: { fontSize: 10, color: AXIS_COLOR, fontFamily: FONT, padding: [0, 8, 0, 0] } },
              showMinLabel: true, showMaxLabel: true, hideOverlap: false,
            }
          : { show: false },
      },
      {
        type: "value", gridIndex, position: "top", min: X_MIN, max: X_MAX, interval: 1,
        axisLine: line, axisTick: tick, splitLine: { show: false }, axisLabel: { show: false },
      },
    ];
    const yAxisFor = (gridIndex: number, min: number, max: number) => [
      {
        type: "value", gridIndex, position: "left", min, max, interval: 0.1,
        axisLine: line, axisTick: tick, splitLine: split,
        axisLabel: { show: true, margin: 11, formatter: yFmt, rich: yRich, showMinLabel: true, showMaxLabel: true },
      },
      {
        type: "value", gridIndex, position: "right", min, max, interval: 0.1,
        axisLine: line, axisTick: tick, splitLine: { show: false }, axisLabel: { show: false },
      },
    ];

    const topData = [topBlue, topRed, topYellow, topPurple, topGreen];
    const botData = [botBlue, botRed, botYellow, botPurple, botGreen];

    const mk = (data: P, i: number, xi: number, yi: number, name: string) => ({
      type: "line", name, data, xAxisIndex: xi, yAxisIndex: yi,
      showSymbol: false, symbol: "none", clip: true,
      lineStyle: { color: COLORS[i], width: 1 }, itemStyle: { color: COLORS[i] },
      emphasis: { disabled: true }, silent: true, z: 2 + i,
    });

    const series = [
      ...topData.map((d, i) => mk(d, i, 0, 0, "top-" + SERIES_NAMES[i])),
      ...botData.map((d, i) => mk(d, i, 2, 2, "bot-" + SERIES_NAMES[i])),
    ];

    chart.setOption({
      animation: false,
      backgroundColor: "#ffffff",
      textStyle: { fontFamily: FONT },
      grid: grids,
      xAxis: [...xAxisFor(0, false), ...xAxisFor(1, true)],
      yAxis: [...yAxisFor(0, TOP_Y_MIN, TOP_Y_MAX), ...yAxisFor(1, BOT_Y_MIN, BOT_Y_MAX)],
      series,
      graphic: [
        {
          type: "text", x: 18, y: 231, rotation: Math.PI / 2,
          style: { text: TOP_LABEL, fontSize: 12.5, fill: AXIS_COLOR, fontFamily: FONT, align: "center", verticalAlign: "middle" },
        },
        {
          type: "text", x: 18, y: 647, rotation: Math.PI / 2,
          style: { text: BOT_LABEL, fontSize: 12.5, fill: AXIS_COLOR, fontFamily: FONT, align: "center", verticalAlign: "middle" },
        },
        {
          type: "text", x: 411, y: 827,
          style: { text: X_LABEL, fontSize: 11, fill: AXIS_COLOR, fontFamily: FONT, align: "center", verticalAlign: "middle" },
        },
      ],
    });

    return () => chart.dispose();
  }, []);

  return (
    <div style={{ position: "fixed", left: 0, top: 0, width: 766, height: 836, overflow: "hidden", background: "#fff" }}>
      <div ref={ref} style={{ width: 766, height: 836 }} />
    </div>
  );
}
